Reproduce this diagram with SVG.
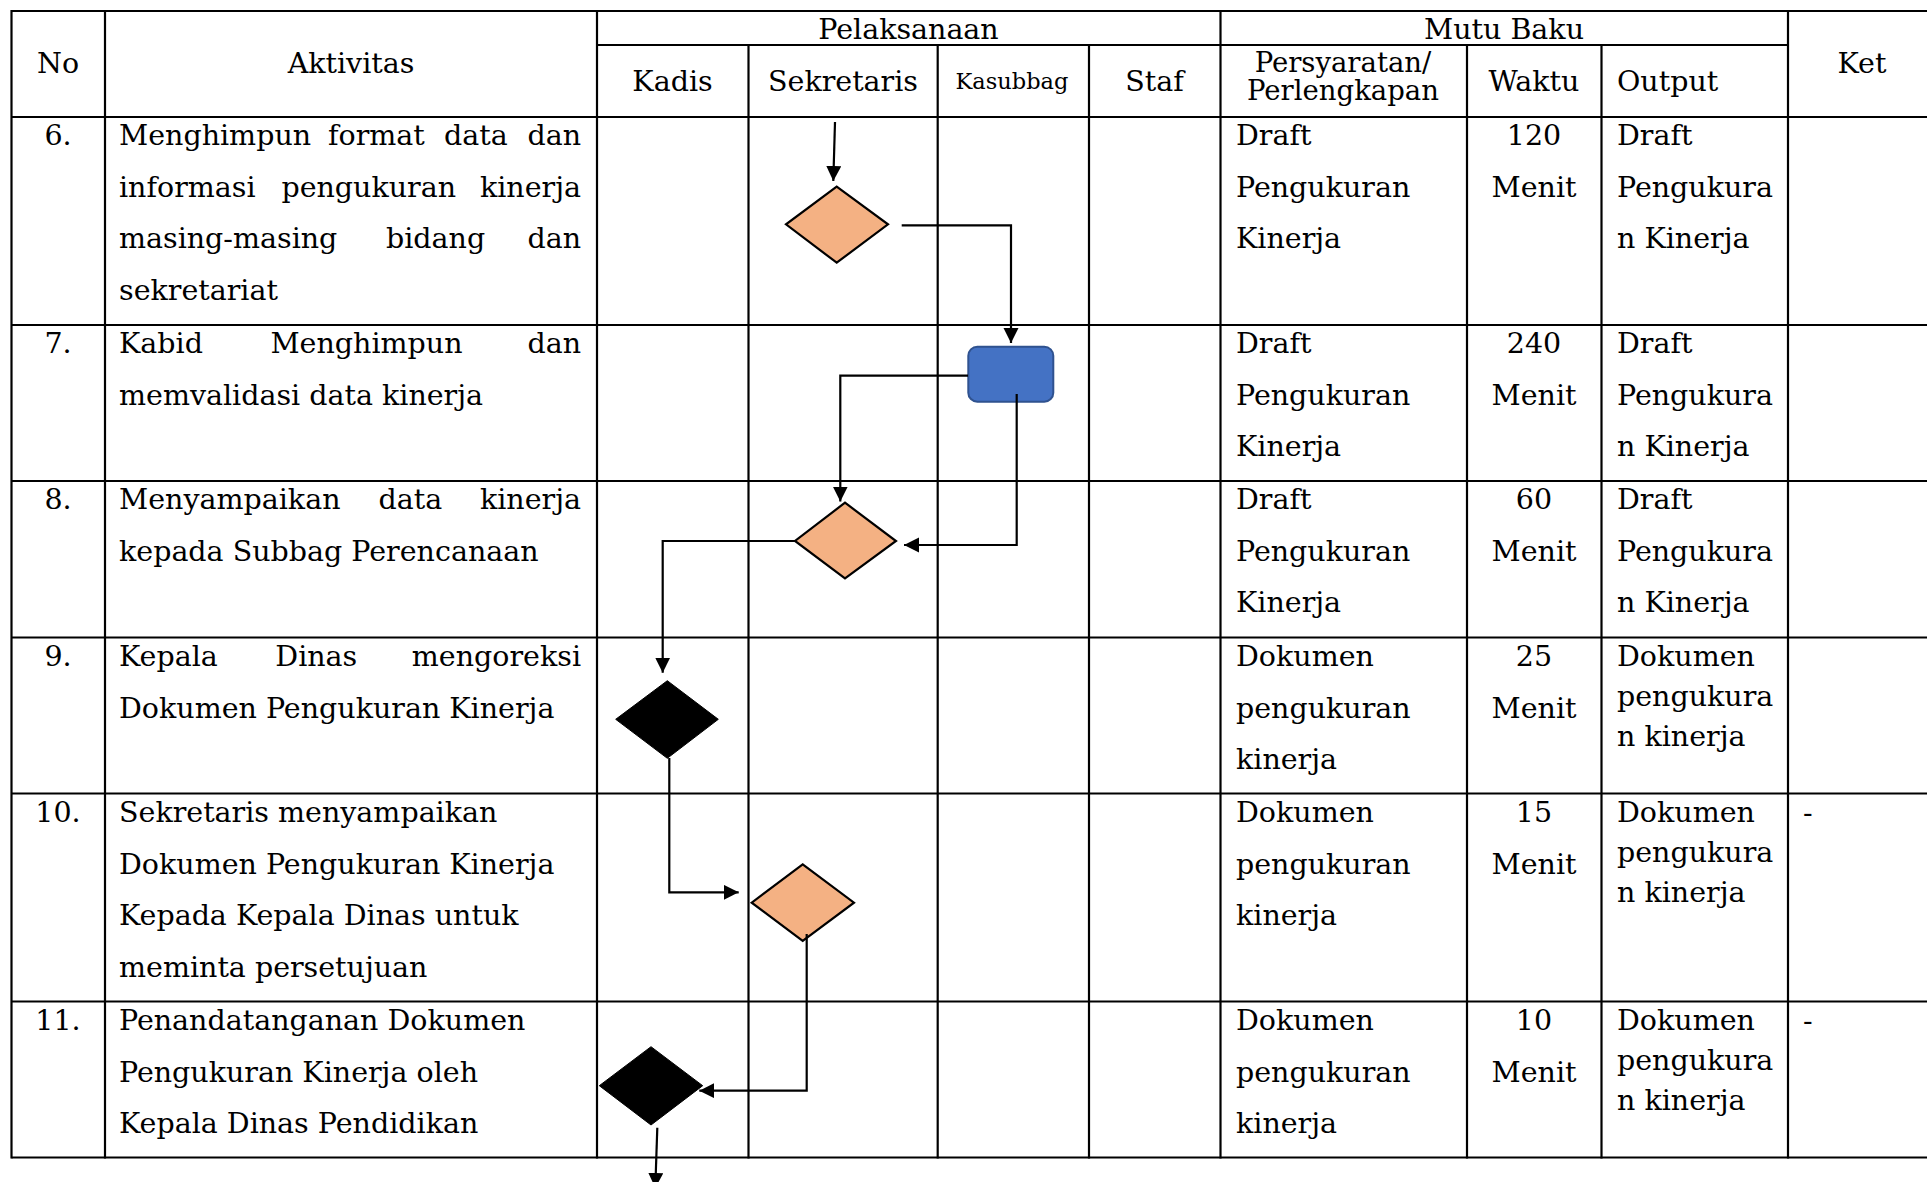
<svg xmlns="http://www.w3.org/2000/svg" width="1927" height="1182" viewBox="0 0 1927 1182">
<style>
.t{font-family:"DejaVu Serif","Liberation Serif",serif;font-size:28.5px;fill:#000}
.h{font-family:"DejaVu Serif","Liberation Serif",serif;font-size:28.5px;fill:#000}
.c{text-anchor:middle}
.e{text-anchor:end}
.g line{stroke:#000;stroke-width:2.2}
.cn{fill:none;stroke:#000;stroke-width:2.2}
.or{fill:#F4B183;stroke:#000;stroke-width:2.2}
.bk{fill:#000;stroke:#000;stroke-width:1}
</style>
<defs>
<marker id="ah" markerUnits="userSpaceOnUse" markerWidth="16" markerHeight="16" refX="15" refY="7.5" orient="auto" viewBox="0 0 16 16">
<path d="M0,0 L15,7.5 L0,15 Z" fill="#000"/>
</marker>
</defs>
<rect width="1927" height="1182" fill="#fff"/>
<g id="grid" class="g">
<line x1="11.5" y1="11" x2="1927" y2="11"/>
<line x1="597" y1="45" x2="1788" y2="45"/>
<line x1="11.5" y1="117" x2="1927" y2="117"/>
<line x1="11.5" y1="325" x2="1927" y2="325"/>
<line x1="11.5" y1="481" x2="1927" y2="481"/>
<line x1="11.5" y1="637.5" x2="1927" y2="637.5"/>
<line x1="11.5" y1="793.5" x2="1927" y2="793.5"/>
<line x1="11.5" y1="1001.5" x2="1927" y2="1001.5"/>
<line x1="11.5" y1="1157.5" x2="1927" y2="1157.5"/>
<line x1="11.5" y1="10" x2="11.5" y2="1158.5"/>
<line x1="105" y1="10" x2="105" y2="1158.5"/>
<line x1="597" y1="10" x2="597" y2="1158.5"/>
<line x1="748.5" y1="45" x2="748.5" y2="1158.5"/>
<line x1="937.7" y1="45" x2="937.7" y2="1158.5"/>
<line x1="1089" y1="45" x2="1089" y2="1158.5"/>
<line x1="1220.5" y1="10" x2="1220.5" y2="1158.5"/>
<line x1="1467" y1="45" x2="1467" y2="1158.5"/>
<line x1="1601.5" y1="45" x2="1601.5" y2="1158.5"/>
<line x1="1788" y1="10" x2="1788" y2="1158.5"/>
</g>
<g id="header">
<text class="h c" x="58" y="73">No</text>
<text class="h c" x="351" y="73">Aktivitas</text>
<text class="h c" x="908.5" y="39">Pelaksanaan</text>
<text class="h c" x="1504" y="39">Mutu Baku</text>
<text class="h c" x="1862" y="73">Ket</text>
<text class="h c" x="672.5" y="91">Kadis</text>
<text class="h c" x="843" y="91">Sekretaris</text>
<text class="h c" x="1012" y="89" style="font-size:22.5px">Kasubbag</text>
<text class="h c" x="1154.5" y="91">Staf</text>
<text class="h c" x="1343" y="72" style="font-size:27.5px">Persyaratan/</text>
<text class="h c" x="1343" y="100" style="font-size:27.5px">Perlengkapan</text>
<text class="h c" x="1534" y="91">Waktu</text>
<text class="h" x="1617" y="91">Output</text>
</g>
<g id="col-no">
<text class="t c" x="58" y="145">6.</text>
<text class="t c" x="58" y="353">7.</text>
<text class="t c" x="58" y="509">8.</text>
<text class="t c" x="58" y="666">9.</text>
<text class="t c" x="58" y="822">10.</text>
<text class="t c" x="58" y="1030">11.</text>
</g>
<g id="col-aktivitas">
<text class="t" x="119" y="145">Menghimpun</text><text class="t" x="328" y="145">format</text><text class="t" x="444" y="145">data</text><text class="t e" x="581" y="145">dan</text>
<text class="t" x="119" y="196.5">informasi</text><text class="t" x="281.4" y="196.5">pengukuran</text><text class="t e" x="581" y="196.5">kinerja</text>
<text class="t" x="119" y="248">masing-masing</text><text class="t" x="386" y="248">bidang</text><text class="t e" x="581" y="248">dan</text>
<text class="t" x="119" y="299.5">sekretariat</text>
<text class="t" x="119" y="353">Kabid</text><text class="t" x="270.4" y="353">Menghimpun</text><text class="t e" x="581" y="353">dan</text>
<text class="t" x="119" y="404.5">memvalidasi data kinerja</text>
<text class="t" x="119" y="509">Menyampaikan</text><text class="t" x="378.5" y="509">data</text><text class="t e" x="581" y="509">kinerja</text>
<text class="t" x="119" y="560.5">kepada Subbag Perencanaan</text>
<text class="t" x="119" y="666">Kepala</text><text class="t" x="275.3" y="666">Dinas</text><text class="t e" x="581" y="666">mengoreksi</text>
<text class="t" x="119" y="717.5">Dokumen Pengukuran Kinerja</text>
<text class="t" x="119" y="822">Sekretaris menyampaikan</text>
<text class="t" x="119" y="873.5">Dokumen Pengukuran Kinerja</text>
<text class="t" x="119" y="925">Kepada Kepala Dinas untuk</text>
<text class="t" x="119" y="976.5">meminta persetujuan</text>
<text class="t" x="119" y="1030">Penandatanganan Dokumen</text>
<text class="t" x="119" y="1081.5">Pengukuran Kinerja oleh</text>
<text class="t" x="119" y="1133">Kepala Dinas Pendidikan</text>
</g>
<g id="col-persyaratan">
<text class="t" x="1236" y="145">Draft</text><text class="t" x="1236" y="196.5">Pengukuran</text><text class="t" x="1236" y="248">Kinerja</text>
<text class="t" x="1236" y="353">Draft</text><text class="t" x="1236" y="404.5">Pengukuran</text><text class="t" x="1236" y="456">Kinerja</text>
<text class="t" x="1236" y="509">Draft</text><text class="t" x="1236" y="560.5">Pengukuran</text><text class="t" x="1236" y="612">Kinerja</text>
<text class="t" x="1236" y="666">Dokumen</text><text class="t" x="1236" y="717.5">pengukuran</text><text class="t" x="1236" y="769">kinerja</text>
<text class="t" x="1236" y="822">Dokumen</text><text class="t" x="1236" y="873.5">pengukuran</text><text class="t" x="1236" y="925">kinerja</text>
<text class="t" x="1236" y="1030">Dokumen</text><text class="t" x="1236" y="1081.5">pengukuran</text><text class="t" x="1236" y="1133">kinerja</text>
</g>
<g id="col-waktu">
<text class="t c" x="1534" y="145">120</text><text class="t c" x="1534" y="196.5">Menit</text>
<text class="t c" x="1534" y="353">240</text><text class="t c" x="1534" y="404.5">Menit</text>
<text class="t c" x="1534" y="509">60</text><text class="t c" x="1534" y="560.5">Menit</text>
<text class="t c" x="1534" y="666">25</text><text class="t c" x="1534" y="717.5">Menit</text>
<text class="t c" x="1534" y="822">15</text><text class="t c" x="1534" y="873.5">Menit</text>
<text class="t c" x="1534" y="1030">10</text><text class="t c" x="1534" y="1081.5">Menit</text>
</g>
<g id="col-output">
<text class="t" x="1617" y="145">Draft</text><text class="t" x="1617" y="196.5">Pengukura</text><text class="t" x="1617" y="248">n Kinerja</text>
<text class="t" x="1617" y="353">Draft</text><text class="t" x="1617" y="404.5">Pengukura</text><text class="t" x="1617" y="456">n Kinerja</text>
<text class="t" x="1617" y="509">Draft</text><text class="t" x="1617" y="560.5">Pengukura</text><text class="t" x="1617" y="612">n Kinerja</text>
<text class="t" x="1617" y="666">Dokumen</text><text class="t" x="1617" y="706">pengukura</text><text class="t" x="1617" y="746">n kinerja</text>
<text class="t" x="1617" y="822">Dokumen</text><text class="t" x="1617" y="862">pengukura</text><text class="t" x="1617" y="902">n kinerja</text>
<text class="t" x="1617" y="1030">Dokumen</text><text class="t" x="1617" y="1070">pengukura</text><text class="t" x="1617" y="1110">n kinerja</text>
</g>
<g id="col-ket">
<text class="t" x="1803" y="822">-</text>
<text class="t" x="1803" y="1030">-</text>
</g>
<g id="node-6"><polygon class="or" points="836.7,186.7 888,224.3 836.7,262.7 786,224.3"/></g>
<g id="node-7"><rect x="968.3" y="346.7" width="85" height="55" rx="9" ry="9" fill="#4472C4" stroke="#2F528F" stroke-width="2"/></g>
<g id="node-8"><polygon class="or" points="845,502.7 896,541 845,578.3 795,541"/></g>
<g id="node-9"><polygon class="bk" points="667.3,680.7 718.3,719.3 667.3,758.3 615.7,719.3"/></g>
<g id="node-10"><polygon class="or" points="802.7,864.3 854,902.7 802.7,941 751.7,902.7"/></g>
<g id="node-11"><polygon class="bk" points="651,1046.7 702.7,1085.7 651,1125 599.3,1085.7"/></g>
<g id="connectors">
<path class="cn" d="M835,122 L833.3,181" marker-end="url(#ah)"/>
<path class="cn" d="M901.7,225.3 H1011 V343" marker-end="url(#ah)"/>
<path class="cn" d="M968,375.7 H840.3 V501.5" marker-end="url(#ah)"/>
<path class="cn" d="M1016.7,394 V545 H904" marker-end="url(#ah)"/>
<path class="cn" d="M796,541 H662.7 V672.7" marker-end="url(#ah)"/>
<path class="cn" d="M669.3,758 V892.3 H738.7" marker-end="url(#ah)"/>
<path class="cn" d="M806.7,934 V1090.7 H699.3" marker-end="url(#ah)"/>
<path class="cn" d="M657.3,1127.7 L655.3,1188" marker-end="url(#ah)"/>
</g>
</svg>
